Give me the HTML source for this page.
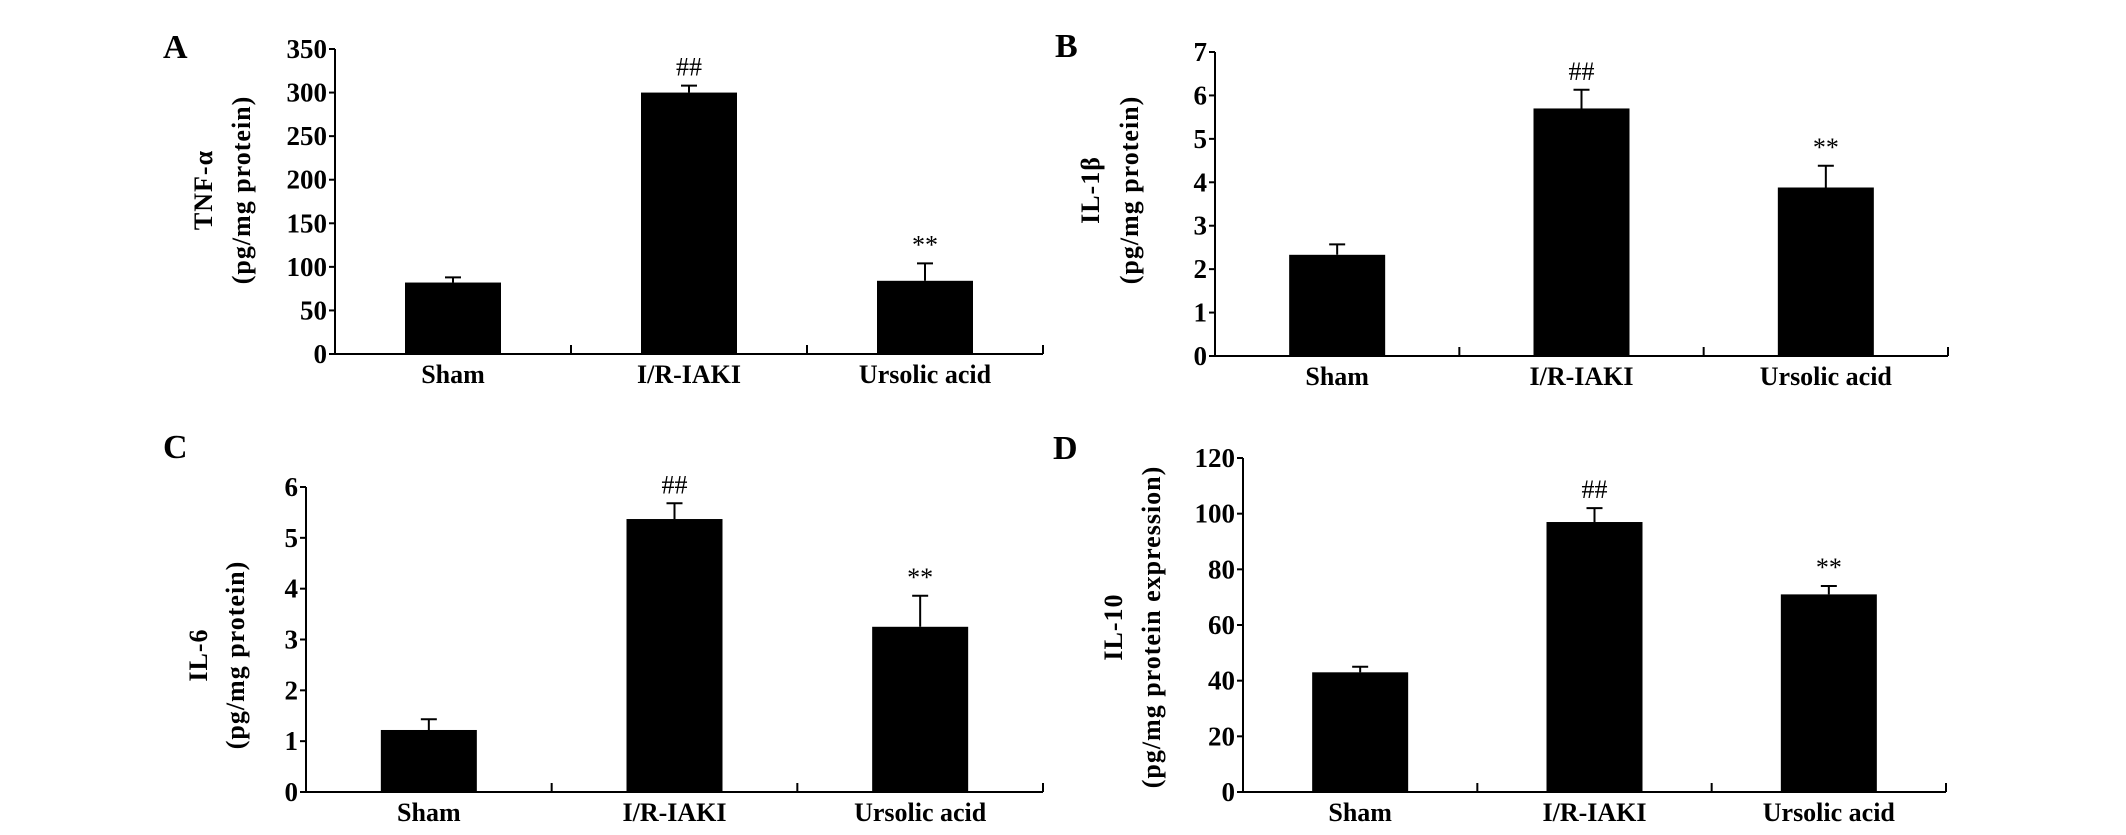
<!DOCTYPE html>
<html><head><meta charset="utf-8"><style>
html,body{margin:0;padding:0;background:#fff;}
svg{display:block;}
text{font-family:"Liberation Serif",serif;font-weight:bold;fill:#000;}
</style></head><body>
<svg id="fig" width="2126" height="835" viewBox="0 0 2126 835"></svg>
<script>
const categories = ["Sham", "I/R-IAKI", "Ursolic acid"];
const tnfValues = [82, 300, 84];
const tnfErrors = [6, 8, 20];
const il1bValues = [2.33, 5.7, 3.88];
const il1bErrors = [0.24, 0.43, 0.5];
const il6Values = [1.22, 5.37, 3.25];
const il6Errors = [0.21, 0.31, 0.61];
const il10Values = [43, 97, 71];
const il10Errors = [2, 5, 3];
const tnfTicks = [0, 50, 100, 150, 200, 250, 300, 350];
const il1bTicks = [0, 1, 2, 3, 4, 5, 6, 7];
const il6Ticks = [0, 1, 2, 3, 4, 5, 6];
const il10Ticks = [0, 20, 40, 60, 80, 100, 120];
const markers = ["", "##", "**"];

const NS = "http://www.w3.org/2000/svg";
const svg = document.getElementById("fig");
function mk(tag, attrs, parent) {
  const e = document.createElementNS(NS, tag);
  for (const k in attrs) e.setAttribute(k, attrs[k]);
  (parent || svg).appendChild(e);
  return e;
}

function panel(cfg) {
  const g = mk("g", {});
  
  
  const maxV = cfg.ticks[cfg.ticks.length - 1];
  const y = v => cfg.y0 - (v / maxV) * (cfg.y0 - cfg.yTop);
  const gw = (cfg.x1 - cfg.x0) / categories.length;
  const xc = i => cfg.x0 + gw * (i + 0.5);

  const L = mk("text", {x: cfg.lx, y: cfg.ly, "font-size": 34}, g);
  L.textContent = cfg.letter;
  
  

  const ya = mk("line", {x1: cfg.x0, y1: cfg.yTop, x2: cfg.x0, y2: cfg.y0, stroke: "#000", "stroke-width": 2}, g);
  
  
  const xa = mk("line", {x1: cfg.x0, y1: cfg.y0, x2: cfg.x1, y2: cfg.y0, stroke: "#000", "stroke-width": 2}, g);
  
  

  cfg.ticks.forEach(t => {
    mk("line", {x1: cfg.x0 - 6, y1: y(t), x2: cfg.x0, y2: y(t), stroke: "#000", "stroke-width": 2}, g);
    const tl = mk("text", {x: cfg.x0 - 8, y: y(t) + 9, "font-size": 27, "text-anchor": "end"}, g);
    tl.textContent = t;
    
    
  });
  for (let i = 1; i <= categories.length; i++) {
    const gx = cfg.x0 + gw * i;
    mk("line", {x1: gx, y1: cfg.y0 - 9, x2: gx, y2: cfg.y0, stroke: "#000", "stroke-width": 2}, g);
  }

  const t1 = mk("text", {transform: `translate(${cfg.yl1},${cfg.ylc}) rotate(-90)`, "font-size": 26, "text-anchor": "middle", "letter-spacing": 1}, g);
  t1.textContent = cfg.title1;
  
  
  const t2 = mk("text", {transform: `translate(${cfg.yl2},${cfg.ylc}) rotate(-90)`, "font-size": 26, "text-anchor": "middle", "letter-spacing": 1}, g);
  t2.textContent = cfg.title2;
  
  

  categories.forEach((c, i) => {
    const bx = xc(i);
    const top = y(cfg.values[i]);
    const bar = mk("rect", {x: bx - 48, y: top, width: 96, height: cfg.y0 - top, fill: "#000"}, g);
    
    
    const et = y(cfg.values[i] + cfg.errors[i]);
    const eb = mk("path", {d: `M${bx} ${top} V${et} M${bx - 8} ${et} H${bx + 8}`, stroke: "#000", "stroke-width": 2, fill: "none"}, g);
    
    
    if (markers[i]) {
      const m = mk("text", {x: bx, y: et - 10, "font-size": 26, "text-anchor": "middle", style: "font-weight:normal"}, g);
      m.textContent = markers[i];
      
      
    }
    const cl = mk("text", {x: bx, y: cfg.y0 + 29, "font-size": 26, "text-anchor": "middle"}, g);
    cl.textContent = c;
    
    
  });
}

panel({letter: "A", lx: 163, ly: 58, x0: 335, x1: 1043, y0: 354, yTop: 49, ticks: tnfTicks, values: tnfValues, errors: tnfErrors, title1: "TNF-α", title2: "(pg/mg protein)", yl1: 212, yl2: 250, ylc: 190});
panel({letter: "B", lx: 1055, ly: 57, x0: 1215, x1: 1948, y0: 356, yTop: 52, ticks: il1bTicks, values: il1bValues, errors: il1bErrors, title1: "IL-1β", title2: "(pg/mg protein)", yl1: 1099, yl2: 1138, ylc: 190});
panel({letter: "C", lx: 163, ly: 458, x0: 306, x1: 1043, y0: 792, yTop: 487, ticks: il6Ticks, values: il6Values, errors: il6Errors, title1: "IL-6", title2: "(pg/mg protein)", yl1: 207, yl2: 244, ylc: 655});
panel({letter: "D", lx: 1053, ly: 459, x0: 1243, x1: 1946, y0: 792, yTop: 458, ticks: il10Ticks, values: il10Values, errors: il10Errors, title1: "IL-10", title2: "(pg/mg protein expression)", yl1: 1122, yl2: 1160, ylc: 627});
</script>
</body></html>
